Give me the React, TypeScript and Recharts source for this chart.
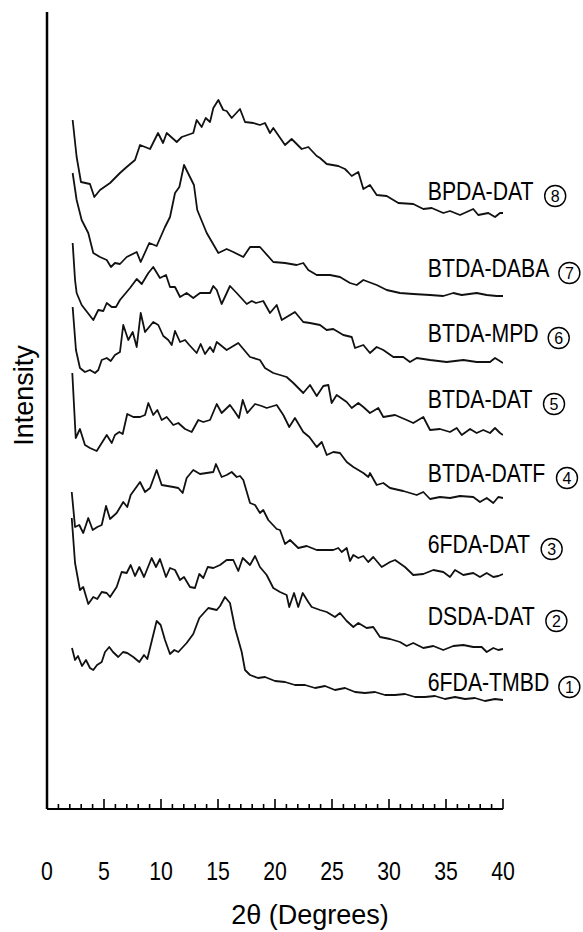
import React from 'react';
import { LineChart, Line, XAxis, YAxis, ReferenceDot } from 'recharts';

// Each pattern is a list of [2θ (deg), intensity (a.u., stacked)] readings.
type Reading = [number, number];

const bpdaDat: Reading[] = [
  [2.25, 689], [2.6, 652], [2.98, 627], [3.77, 625], [4.15, 612], [4.65, 619], [5.53, 626],
  [6.4, 636], [6.99, 642], [7.72, 649], [8.16, 664], [9.04, 660], [9.74, 676], [10.18, 666],
  [10.5, 676], [11.38, 667], [11.82, 672], [12.83, 676], [13.13, 689], [13.57, 682], [13.92, 691],
  [14.3, 687], [14.59, 701], [15.03, 709], [15.46, 699], [15.76, 698], [16.2, 691], [16.93, 700],
  [17.37, 687], [18.1, 686], [18.68, 684], [19.12, 686], [19.56, 676], [19.85, 681], [20.88, 664],
  [21.46, 670], [22.34, 660], [22.92, 662], [23.66, 653], [23.95, 651], [24.54, 645], [25.55, 643],
  [26.14, 640], [26.4, 637], [26.73, 633], [27.31, 637], [27.75, 620], [28.33, 624], [28.92, 614],
  [29.8, 613], [30.82, 606], [32.13, 605], [33.01, 600], [33.75, 601], [34.76, 596], [35.35, 598],
  [36.23, 594], [37.39, 600], [37.83, 594], [38.71, 596], [39.3, 592], [39.74, 596], [40, 596],
];

const btdaDaba: Reading[] = [
  [2.25, 636], [2.6, 609], [3.04, 589], [3.62, 576], [4.06, 556], [4.65, 552], [5.24, 549],
  [5.61, 542], [5.96, 546], [6.4, 545], [6.99, 552], [7.87, 557], [8.22, 547], [8.97, 566],
  [9.62, 563], [10.35, 582], [10.79, 592], [11.23, 616], [11.61, 622], [12.02, 644], [12.54, 632],
  [12.89, 624], [13.18, 599], [14.01, 576], [15.03, 556], [15.76, 560], [16.34, 557], [17.22, 552],
  [17.81, 562], [18.68, 562], [19.85, 547], [20.88, 546], [21.9, 544], [22.48, 546], [22.92, 539],
  [23.66, 534], [24.82, 534], [25.7, 532], [26.58, 526], [27.17, 524], [27.75, 529], [28.92, 524],
  [29.8, 519], [30.96, 516], [32.13, 515], [33.6, 514], [34.76, 513], [35.64, 516], [36.38, 514],
  [37.69, 516], [38.57, 514], [39.45, 513], [40, 513],
];

const btdaMpd: Reading[] = [
  [2.25, 566], [2.46, 529], [2.6, 516], [3.04, 504], [4.06, 489], [4.5, 499], [4.94, 498],
  [5.24, 506], [5.68, 502], [6.05, 502], [6.4, 509], [7.28, 521], [7.87, 530], [8.31, 525],
  [8.89, 536], [9.32, 542], [9.91, 531], [10.44, 534], [10.79, 522], [11.23, 522], [11.67, 512],
  [12.25, 516], [12.83, 511], [13.42, 516], [14.3, 516], [14.59, 523], [14.89, 519], [15.32, 505],
  [16.05, 523], [16.64, 516], [17.52, 505], [17.96, 508], [18.33, 506], [18.97, 508], [19.56, 496],
  [20.15, 504], [20.59, 489], [21.75, 497], [22.48, 487], [23.07, 486], [23.95, 484], [24.53, 479],
  [25.11, 480], [25.99, 474], [26.73, 472], [27.02, 461], [27.75, 464], [28.33, 456], [28.92, 462],
  [29.5, 459], [30.38, 452], [31.25, 452], [31.84, 447], [32.43, 451], [33.6, 449], [35.06, 447],
  [36.52, 449], [37.69, 447], [38.86, 447], [39.3, 451], [40, 446],
];

const btdaDat: Reading[] = [
  [2.25, 502], [2.54, 459], [2.89, 441], [3.33, 437], [3.77, 439], [4.21, 436], [4.5, 439],
  [4.8, 449], [5.24, 451], [5.59, 448], [5.96, 454], [6.4, 457], [6.69, 484], [7.13, 469],
  [7.52, 477], [7.87, 462], [8.22, 496], [8.6, 477], [9.32, 487], [9.76, 484], [10.2, 473],
  [10.64, 469], [10.94, 464], [11.23, 478], [11.67, 467], [12.11, 469], [12.48, 464], [13.13, 456],
  [13.48, 465], [13.86, 455], [14.3, 462], [14.59, 457], [14.89, 467], [15.76, 459], [16.78, 466],
  [17.81, 452], [18.68, 449], [19.12, 441], [19.85, 436], [20.44, 434], [21.02, 432], [21.61, 426],
  [22.48, 416], [23.07, 424], [23.66, 413], [24.24, 423], [24.68, 424], [24.97, 406], [25.41, 414],
  [26.29, 407], [26.73, 401], [27.31, 406], [27.75, 402], [28.33, 396], [29.06, 401], [29.5, 392],
  [30.53, 394], [31.55, 389], [32.13, 386], [33.01, 392], [33.6, 379], [34.47, 380], [35.35, 377],
  [35.94, 381], [36.38, 374], [37.11, 380], [37.69, 376], [38.27, 379], [38.86, 376], [39.3, 381],
  [39.74, 376], [40, 374],
];

const btdaDatf: Reading[] = [
  [2.22, 436], [2.52, 371], [2.89, 380], [3.33, 364], [3.77, 361], [4.36, 358], [4.8, 366],
  [5.24, 374], [5.68, 366], [5.96, 374], [6.34, 377], [6.64, 375], [7.04, 395], [7.57, 392],
  [8.16, 392], [8.6, 394], [8.89, 406], [9.32, 394], [9.68, 399], [10.06, 389], [10.5, 392],
  [11.08, 384], [11.52, 386], [12.11, 380], [12.69, 377], [13.27, 389], [13.71, 387], [14.3, 389],
  [14.89, 405], [15.32, 396], [16.05, 404], [16.49, 397], [16.84, 391], [17.17, 409], [17.57, 396],
  [18.25, 405], [18.83, 403], [19.27, 401], [20.15, 404], [20.73, 394], [21.25, 382], [21.75, 391],
  [22.48, 377], [23.01, 372], [23.66, 362], [24.1, 367], [24.54, 354], [25.12, 357], [25.7, 356],
  [26.29, 347], [26.87, 342], [27.75, 336], [28.19, 332], [28.33, 336], [28.92, 324], [29.5, 326],
  [30.09, 321], [31.25, 318], [32.43, 314], [33.01, 317], [33.6, 310], [34.47, 312], [35.35, 311],
  [36.23, 313], [37.39, 312], [37.98, 307], [38.57, 311], [39.15, 306], [39.59, 312], [40, 311],
];

const sixFdaDat: Reading[] = [
  [2.17, 317], [2.46, 282], [2.83, 284], [3.18, 276], [3.62, 291], [4.01, 279], [4.41, 282],
  [4.8, 284], [5.18, 303], [5.53, 290], [6.11, 296], [6.69, 307], [7.04, 302], [7.34, 314],
  [8.16, 327], [8.6, 317], [9.04, 321], [9.62, 339], [10.06, 324], [11.08, 322], [11.52, 321],
  [11.9, 316], [12.25, 331], [12.83, 339], [13.42, 335], [14.59, 337], [14.82, 345], [15.32, 332],
  [15.76, 334], [16.2, 337], [16.64, 332], [16.93, 333], [17.22, 329], [17.81, 306], [18.25, 304],
  [18.68, 296], [18.97, 299], [19.41, 289], [20.15, 280], [20.44, 279], [20.88, 265], [21.32, 269],
  [22.04, 261], [22.78, 263], [23.66, 259], [24.24, 259], [25.11, 259], [25.55, 261], [25.85, 257],
  [26.29, 261], [26.58, 248], [26.87, 254], [27.31, 251], [27.75, 253], [28.18, 247], [28.62, 252],
  [29.36, 242], [30.09, 247], [30.53, 249], [31.4, 242], [32.13, 234], [33.01, 235], [33.89, 239],
  [34.76, 237], [35.35, 232], [35.79, 239], [36.52, 234], [37.39, 236], [37.98, 232], [38.57, 236],
  [39.15, 232], [39.59, 233], [40, 235],
];

const dsdaDat: Reading[] = [
  [2.17, 291], [2.46, 246], [2.89, 219], [3.18, 222], [3.62, 205], [4.06, 212], [4.41, 210],
  [4.8, 217], [5.24, 216], [5.53, 212], [6.11, 222], [6.55, 237], [6.99, 236], [7.34, 244],
  [7.72, 233], [8.1, 242], [8.51, 232], [9.18, 251], [9.56, 242], [9.91, 250], [10.44, 232],
  [10.79, 241], [11.23, 239], [11.67, 229], [12.02, 232], [12.54, 222], [12.98, 221], [13.36, 235],
  [13.71, 231], [14.1, 242], [14.59, 241], [15.18, 244], [15.76, 249], [16.34, 249], [16.78, 238],
  [17.17, 251], [17.81, 244], [18.25, 253], [18.68, 242], [19.27, 234], [19.85, 221], [20.44, 217],
  [21.02, 214], [21.25, 202], [21.67, 216], [22.04, 202], [22.43, 216], [22.92, 207], [23.22, 202],
  [23.95, 199], [24.54, 197], [25.26, 192], [25.7, 196], [26.29, 188], [26.87, 182], [27.31, 186],
  [28.04, 181], [28.62, 182], [29.21, 172], [30.09, 170], [30.96, 167], [31.55, 163], [32.13, 166],
  [33.01, 161], [33.89, 163], [34.76, 159], [35.64, 163], [36.52, 164], [37.39, 162], [38.13, 162],
  [38.57, 157], [39.15, 161], [39.59, 159], [40, 160],
];

const sixFdaTmbd: Reading[] = [
  [2.19, 161], [2.46, 149], [2.72, 153], [3.07, 143], [3.42, 149], [3.77, 141], [4.06, 139],
  [4.39, 144], [4.8, 147], [5.09, 157], [5.46, 162], [5.79, 157], [6.25, 152], [6.67, 157],
  [7.04, 156], [7.57, 152], [8.1, 147], [8.51, 154], [8.8, 150], [9.21, 169], [9.62, 188],
  [9.97, 184], [10.35, 169], [10.79, 155], [11.17, 159], [11.52, 157], [12.25, 166], [12.83, 175],
  [13.36, 191], [14.15, 201], [14.89, 199], [15.18, 203], [15.61, 212], [16.05, 206], [16.49, 181],
  [17.08, 157], [17.37, 139], [17.81, 134], [18.51, 131], [19.12, 132], [20, 128], [20.88, 127],
  [21.75, 124], [22.63, 124], [23.51, 121], [24.39, 123], [25.26, 119], [26.14, 121], [27.02, 117],
  [27.89, 116], [28.77, 117], [29.65, 114], [30.53, 114], [31.4, 115], [32.28, 112], [33.16, 112],
  [34.04, 113], [34.91, 110], [35.79, 112], [36.67, 110], [37.54, 111], [38.42, 108], [39.3, 110],
  [40, 109],
];

const sampleNames = [
  'BPDA-DAT', 'BTDA-DABA', 'BTDA-MPD', 'BTDA-DAT', 'BTDA-DATF', '6FDA-DAT', 'DSDA-DAT', '6FDA-TMBD',
];
const sampleNumbers = ['8', '7', '6', '5', '4', '3', '2', '1'];
const patterns = [bpdaDat, btdaDaba, btdaMpd, btdaDat, btdaDatf, sixFdaDat, dsdaDat, sixFdaTmbd];
// Intensity level at which each sample name sits, and the 2θ where it starts.
const nameLevels = [609, 532, 467, 401, 327, 256, 184, 118];
const nameAngle = 33.4;

const angleTicks = [
  0, 1, 2, 3, 4, 5, 6, 7, 8, 9, 10, 11, 12, 13, 14, 15, 16, 17, 18, 19, 20,
  21, 22, 23, 24, 25, 26, 27, 28, 29, 30, 31, 32, 33, 34, 35, 36, 37, 38, 39, 40,
];
const labelledEvery = 5;

const FONT = "'Liberation Sans', Arial, Helvetica, sans-serif";
const NARROW = 0.85;

// Helvetica/Arial advance widths (1/1000 em) for the glyphs used in the sample names.
const ADVANCE: Record<string, number> = {
  A: 667, B: 667, D: 722, F: 611, M: 833, P: 667, S: 667, T: 611, '-': 333, '6': 556,
};
const nameWidth = (s: string, size: number) =>
  s.split('').reduce((w, c) => w + (ADVANCE[c] ?? 556), 0) * size / 1000 * NARROW;

const AngleTick = (props: any) => {
  const { x, y, payload } = props;
  const v = payload.value as number;
  const major = v % labelledEvery === 0;
  return (
    <g>
      <line x1={x} x2={x} y1={y} y2={y - (major ? 10 : 5)} stroke="#000" strokeWidth={1.6} />
      {major && (
        <text
          transform={`translate(${x},${y + 71}) scale(${NARROW},1)`}
          textAnchor="middle"
          fontFamily={FONT}
          fontSize={25}
          fill="#000"
        >
          {v}
        </text>
      )}
    </g>
  );
};

const SampleTag = (props: any) => {
  const { cx, cy, name, num } = props;
  const w = nameWidth(name, 25);
  const ox = cx + w + 20;
  return (
    <g>
      <text
        transform={`translate(${cx},${cy}) scale(${NARROW},1)`}
        fontFamily={FONT}
        fontSize={25}
        fill="#000"
      >
        {name}
      </text>
      <circle cx={ox} cy={cy - 4} r={10.5} fill="none" stroke="#000" strokeWidth={1.4} />
      <text x={ox} y={cy + 2} textAnchor="middle" fontFamily={FONT} fontSize={16} fill="#000">
        {num}
      </text>
    </g>
  );
};

const AngleTitle = (props: any) => {
  const vb = props.viewBox;
  const x = vb.x + vb.width / 2 + 35;
  const y = vb.y + 115;
  return (
    <text x={x} y={y} textAnchor="middle" fontFamily={FONT} fontSize={27} fill="#000">
      2θ (Degrees)
    </text>
  );
};

const IntensityTitle = (props: any) => {
  const vb = props.viewBox;
  const x = vb.x + vb.width - 14;
  const y = vb.y + vb.height / 2 - 15;
  return (
    <text
      transform={`translate(${x},${y}) rotate(-90)`}
      textAnchor="middle"
      fontFamily={FONT}
      fontSize={27}
      fill="#000"
    >
      Intensity
    </text>
  );
};

export default function App() {
  const series = patterns.map((p) => p.map(([t, i]) => ({ t, i })));
  return (
    <div style={{ position: 'absolute', left: 0, top: 0, width: 583, height: 932, background: '#fff' }}>
      <LineChart width={583} height={932} margin={{ top: 12, right: 80, bottom: 93, left: 46 }}>
        <XAxis
          type="number"
          dataKey="t"
          domain={[0, 40]}
          ticks={angleTicks}
          interval={0}
          allowDataOverflow
          tickLine={false}
          tickSize={0}
          tickMargin={0}
          height={30}
          axisLine={{ stroke: '#000', strokeWidth: 2 }}
          tick={<AngleTick />}
          label={<AngleTitle />}
        />
        <YAxis
          type="number"
          domain={[0, 797]}
          allowDataOverflow
          width={1}
          tick={false}
          tickLine={false}
          axisLine={{ stroke: '#000', strokeWidth: 2.5 }}
          label={<IntensityTitle />}
        />
        {series.map((d, k) => (
          <Line
            key={sampleNames[k]}
            data={d}
            dataKey="i"
            type="linear"
            stroke="#111"
            strokeWidth={1.8}
            strokeLinejoin="round"
            dot={false}
            activeDot={false}
            isAnimationActive={false}
          />
        ))}
        {sampleNames.map((n, k) => (
          <ReferenceDot
            key={`tag-${n}`}
            x={nameAngle}
            y={nameLevels[k]}
            r={0}
            shape={(p: any) => <SampleTag cx={p.cx} cy={p.cy} name={n} num={sampleNumbers[k]} />}
          />
        ))}
      </LineChart>
    </div>
  );
}
